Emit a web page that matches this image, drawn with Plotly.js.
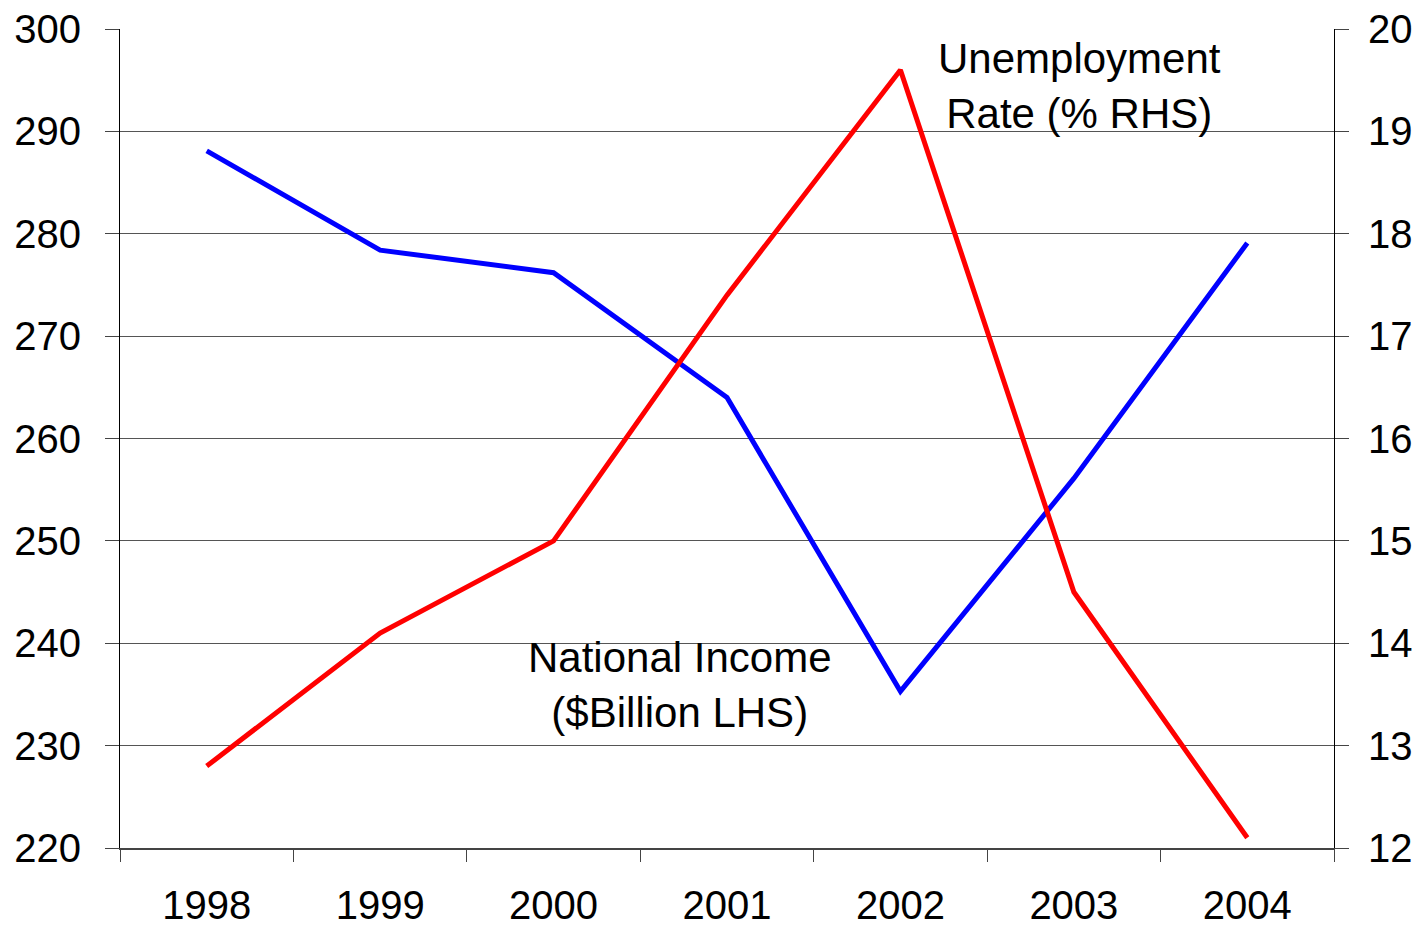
<!DOCTYPE html>
<html>
<head>
<meta charset="utf-8">
<script src="https://cdn.plot.ly/plotly-3.0.1.min.js"></script>
<style>html,body{margin:0;padding:0;background:#fff;}</style>
</head>
<body>
<div id="chart" style="width:1421px;height:929px;"></div>
<script>
const years = ['1998','1999','2000','2001','2002','2003','2004'];
const nationalIncome = [288.1, 278.4, 276.2, 264.0, 235.3, 256.1, 279.1];
const unemploymentRate = [12.8, 14.1, 15.0, 17.4, 19.6, 14.5, 12.1];
const leftTicks = [220, 230, 240, 250, 260, 270, 280, 290, 300];
const rightTicks = [12, 13, 14, 15, 16, 17, 18, 19, 20];

const font = {family: 'Liberation Sans, Arial, sans-serif', color: '#000'};

const traces = [
  {x: years, y: nationalIncome, type: 'scatter', mode: 'lines', name: 'National Income',
   line: {color: '#0000FF', width: 5}, yaxis: 'y'},
  {x: years, y: unemploymentRate, type: 'scatter', mode: 'lines', name: 'Unemployment Rate',
   line: {color: '#FF0000', width: 5}, yaxis: 'y2'}
];

const layout = {
  width: 1421, height: 929,
  margin: {l: 120, r: 87, t: 29, b: 81},
  paper_bgcolor: '#fff', plot_bgcolor: '#fff',
  showlegend: false,
  font: Object.assign({size: 40}, font),
  xaxis: {
    type: 'category', range: [-0.5, 6.5], tickson: 'boundaries',
    ticks: 'outside', ticklen: 12, tickcolor: '#444', tickwidth: 1,
    showline: true, linecolor: '#444', linewidth: 2,
    showgrid: false, zeroline: false,
    tickfont: Object.assign({size: 40}, font), ticklabelstandoff: 21
  },
  yaxis: {
    range: [220, 300], tickvals: leftTicks, ticktext: leftTicks.map(String),
    ticks: 'outside', ticklen: 14, tickcolor: '#444', tickwidth: 1,
    showline: true, linecolor: '#000', linewidth: 1,
    showgrid: true, gridcolor: '#555', gridwidth: 1, zeroline: false,
    tickfont: Object.assign({size: 40}, font), ticklabelstandoff: 16
  },
  yaxis2: {
    overlaying: 'y', side: 'right',
    range: [12, 20], tickvals: rightTicks, ticktext: rightTicks.map(String),
    ticks: 'outside', ticklen: 14, tickcolor: '#444', tickwidth: 1,
    showline: true, linecolor: '#000', linewidth: 1,
    showgrid: false, zeroline: false,
    tickfont: Object.assign({size: 40}, font), ticklabelstandoff: 11
  },
  annotations: [
    {xref: 'paper', yref: 'paper', x: 0.790, y: 0.931, text: 'Unemployment<br>Rate (% RHS)',
     showarrow: false, font: Object.assign({size: 42}, font), align: 'center', xanchor: 'center', yanchor: 'middle'},
    {xref: 'paper', yref: 'paper', x: 0.461, y: 0.199, text: 'National Income<br>($Billion LHS)',
     showarrow: false, font: Object.assign({size: 42}, font), align: 'center', xanchor: 'center', yanchor: 'middle'}
  ]
};

Plotly.newPlot('chart', traces, layout, {displayModeBar: false, staticPlot: true});
</script>
</body>
</html>
